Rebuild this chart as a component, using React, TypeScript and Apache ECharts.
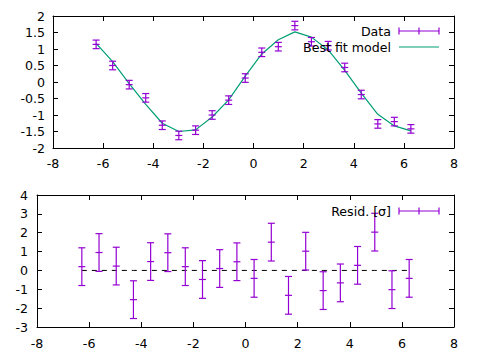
import React, { useEffect, useRef } from "react";
import * as echarts from "echarts";

const xValues = [-6.28, -5.62, -4.96, -4.3, -3.64, -2.98, -2.31, -1.65, -0.99, -0.33, 0.33, 0.99, 1.65, 2.31, 2.98, 3.64, 4.3, 4.96, 5.62, 6.28];
const dataY = [1.14, 0.5, -0.08, -0.48, -1.31, -1.62, -1.46, -1.0, -0.55, 0.12, 0.9, 1.07, 1.71, 1.22, 1.1, 0.44, -0.38, -1.27, -1.2, -1.42];
const dataErr = [0.13, 0.13, 0.13, 0.13, 0.13, 0.13, 0.13, 0.13, 0.13, 0.13, 0.13, 0.13, 0.13, 0.13, 0.13, 0.13, 0.13, 0.13, 0.13, 0.13];
const modelY = [1.17, 0.62, -0.05, -0.68, -1.25, -1.5, -1.45, -1.06, -0.54, 0.18, 0.85, 1.28, 1.52, 1.36, 0.97, 0.35, -0.34, -0.98, -1.33, -1.48];
const residY = [0.2, 0.95, 0.23, -1.55, 0.47, 0.94, 0.2, -0.48, 0.1, 0.46, -0.42, 1.5, -1.32, 1.02, -1.07, -0.66, 0.27, 2.03, -1.02, -0.42];
const residErr = [1, 1, 1, 1, 1, 1, 1, 1, 1, 1, 1, 1, 1, 1, 1, 1, 1, 1, 1, 1];
const zeroY = [0, 0, 0, 0, 0, 0, 0, 0, 0, 0, 0, 0, 0, 0, 0, 0, 0, 0, 0, 0];

const legendTop = ["Data", "Best fit model"];
const legendBottom = ["Resid. [σ]"];

const PURPLE = "#9400d3";
const GREEN = "#009e73";
const FONT = "DejaVu Sans";
const FS = 12.6;

function errorRender(params: any, api: any) {
  const x = api.value(0);
  const y = api.value(1);
  const e = api.value(2);
  const c = api.coord([x, y]);
  const hi = api.coord([x, y + e]);
  const lo = api.coord([x, y - e]);
  const w = 3.5;
  const style = { stroke: PURPLE, lineWidth: 1.2 };
  return {
    type: "group",
    children: [
      { type: "line", shape: { x1: c[0], y1: hi[1], x2: c[0], y2: lo[1] }, style },
      { type: "line", shape: { x1: c[0] - w, y1: hi[1], x2: c[0] + w, y2: hi[1] }, style },
      { type: "line", shape: { x1: c[0] - w, y1: lo[1], x2: c[0] + w, y2: lo[1] }, style },
      { type: "line", shape: { x1: c[0] - w, y1: c[1], x2: c[0] + w, y2: c[1] }, style },
    ],
  };
}

const axisLabel = (margin: number, show = true) => ({
  show,
  margin,
  fontFamily: FONT,
  fontSize: FS,
  color: "#000",
  formatter: (v: number) => String(v),
});

function makeX(grid: number, pos: "bottom" | "top", margin: number) {
  return {
    type: "value",
    gridIndex: grid,
    position: pos,
    min: -8,
    max: 8,
    interval: 2,
    axisLine: { show: true, onZero: false, lineStyle: { color: "#000", width: 1 } },
    axisTick: { show: true, inside: true, length: 5, lineStyle: { color: "#000" } },
    axisLabel: axisLabel(margin, pos === "bottom"),
    splitLine: { show: false },
  };
}

function makeY(grid: number, pos: "left" | "right", min: number, max: number, interval: number, margin: number) {
  return {
    type: "value",
    gridIndex: grid,
    position: pos,
    min,
    max,
    interval,
    axisLine: { show: true, onZero: false, lineStyle: { color: "#000", width: 1 } },
    axisTick: { show: true, inside: true, length: 5, lineStyle: { color: "#000" } },
    axisLabel: axisLabel(margin, pos === "left"),
    splitLine: { show: false },
  };
}

function errIcon(x1: number, x2: number, y: number) {
  const s = { stroke: PURPLE, lineWidth: 1.2 };
  const mid = (x1 + x2) / 2;
  return [
    { type: "line", shape: { x1, y1: y, x2, y2: y }, style: s },
    { type: "line", shape: { x1, y1: y - 3.5, x2: x1, y2: y + 3.5 }, style: s },
    { type: "line", shape: { x1: x2, y1: y - 3.5, x2, y2: y + 3.5 }, style: s },
    { type: "line", shape: { x1: mid, y1: y - 3.5, x2: mid, y2: y + 3.5 }, style: s },
  ];
}

export default function App() {
  const ref = useRef<HTMLDivElement>(null);
  useEffect(() => {
    if (!ref.current) return;
    const chart = echarts.init(ref.current, undefined, { renderer: "svg" });
    const dataTop = xValues.map((x, i) => [x, dataY[i], dataErr[i]]);
    const model = xValues.map((x, i) => [x, modelY[i]]);
    const resid = xValues.map((x, i) => [x, residY[i], residErr[i]]);
    const zero = xValues.map((x, i) => [x, zeroY[i]]);
    const textStyle = (t: string, y: number) => ({
      type: "text",
      x: 391,
      y,
      z: 100,
      style: { text: t, fill: "#000", font: `${FS}px "${FONT}"`, textAlign: "right", textVerticalAlign: "middle" },
    });
    chart.setOption({
      animation: false,
      backgroundColor: "#fff",
      grid: [
        { left: 53, top: 16, width: 401, height: 132 },
        { left: 37, top: 195, width: 417, height: 132 },
      ],
      xAxis: [makeX(0, "bottom", 9), makeX(0, "top", 8), makeX(1, "bottom", 10), makeX(1, "top", 8)],
      yAxis: [
        makeY(0, "left", -2, 2, 0.5, 8),
        makeY(0, "right", -2, 2, 0.5, 8),
        makeY(1, "left", -3, 4, 1, 9),
        makeY(1, "right", -3, 4, 1, 9),
      ],
      series: [
        {
          type: "line",
          name: legendTop[1],
          xAxisIndex: 0,
          yAxisIndex: 0,
          data: model,
          showSymbol: false,
          lineStyle: { color: GREEN, width: 1.2 },
          z: 2,
        },
        {
          type: "custom",
          name: legendTop[0],
          xAxisIndex: 0,
          yAxisIndex: 0,
          data: dataTop,
          encode: { x: 0, y: 1 },
          renderItem: errorRender,
          z: 3,
        },
        {
          type: "line",
          xAxisIndex: 2,
          yAxisIndex: 2,
          data: zero,
          showSymbol: false,
          lineStyle: { color: "#000", width: 1, type: [5, 5] },
          z: 2,
        },
        {
          type: "custom",
          name: legendBottom[0],
          xAxisIndex: 2,
          yAxisIndex: 2,
          data: resid,
          encode: { x: 0, y: 1 },
          renderItem: errorRender,
          z: 3,
        },
      ],
      graphic: [
        textStyle(legendTop[0], 31),
        textStyle(legendTop[1], 47),
        textStyle(legendBottom[0], 211),
        ...errIcon(399, 439, 31),
        { type: "line", shape: { x1: 399, y1: 47, x2: 439, y2: 47 }, style: { stroke: GREEN, lineWidth: 1.2 } },
        ...errIcon(399, 439, 211),
      ],
    });
    return () => chart.dispose();
  }, []);
  return <div ref={ref} style={{ position: "absolute", left: 0, top: 0, width: 480, height: 360 }} />;
}
